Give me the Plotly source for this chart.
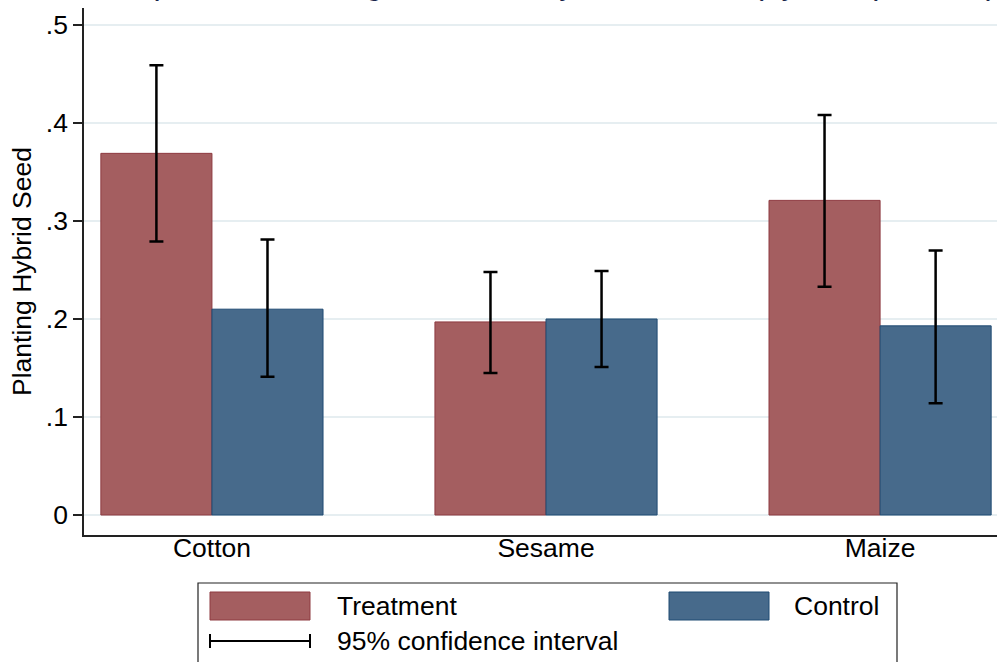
import plotly.graph_objects as go

# ---------------- data ----------------
crops = ["Cotton", "Sesame", "Maize"]
treat_mean = [0.369, 0.197, 0.321]
treat_lo = [0.279, 0.145, 0.233]
treat_hi = [0.459, 0.248, 0.408]
ctrl_mean = [0.210, 0.200, 0.193]
ctrl_lo = [0.141, 0.151, 0.114]
ctrl_hi = [0.281, 0.249, 0.270]
ytick_vals = [0, 0.1, 0.2, 0.3, 0.4, 0.5]
ytick_text = ["0", ".1", ".2", ".3", ".4", ".5"]
series_names = ["Treatment", "Control"]
ci_label = "95% confidence interval"
y_title = "Planting Hybrid Seed"
title_text = "Impact on Planting Seed Use by Treatments (by Sample Size)"

# ---------------- style ----------------
W, H = 997, 662
ML, MR, MT, MB = 84, 0, 8, 127
PW, PH = W - ML - MR, H - MT - MB
FONT = "Liberation Sans, Arial, Helvetica, sans-serif"
FS = 26.5
T_FILL, T_LINE = "#a45e60", "#8e3a40"
C_FILL, C_LINE = "#476a8b", "#1f4a72"


def px(x):
    return (x - ML) / PW


def py(y):
    return (H - MB - y) / PH


def err(mean, lo, hi):
    return [h - m for m, h in zip(mean, hi)], [m - l for m, l in zip(mean, lo)]


t_up, t_dn = err(treat_mean, treat_lo, treat_hi)
c_up, c_dn = err(ctrl_mean, ctrl_lo, ctrl_hi)

fig = go.Figure()
fig.add_trace(go.Bar(
    x=crops, y=treat_mean, name=series_names[0],
    marker=dict(color=T_FILL, line=dict(color=T_LINE, width=1)),
    error_y=dict(type="data", array=t_up, arrayminus=t_dn, color="black",
                 thickness=2.5, width=7),
))
fig.add_trace(go.Bar(
    x=crops, y=ctrl_mean, name=series_names[1],
    marker=dict(color=C_FILL, line=dict(color=C_LINE, width=1)),
    error_y=dict(type="data", array=c_up, arrayminus=c_dn, color="black",
                 thickness=2.5, width=7),
))

fig.update_layout(
    width=W, height=H,
    margin=dict(l=ML, r=MR, t=MT, b=MB, pad=0, autoexpand=False),
    paper_bgcolor="white", plot_bgcolor="white",
    barmode="group", bargap=0.335, bargroupgap=0,
    showlegend=False,
    font=dict(family=FONT, size=FS, color="black"),
)
fig.update_xaxes(
    range=[-0.383, 2.35], showline=True, linecolor="#222", linewidth=1.5,
    ticks="", showgrid=False, zeroline=False, automargin=False,
    ticklabelstandoff=-12,
    tickfont=dict(size=FS, family=FONT, color="black"),
)
fig.update_yaxes(
    range=[-0.0204, 0.5173], showline=True, linecolor="#222", linewidth=1.5,
    tickvals=ytick_vals, ticktext=ytick_text, ticks="outside", ticklen=9,
    tickwidth=1.5, tickcolor="#222", automargin=False,
    showgrid=True, gridcolor="#e6eef1", gridwidth=1.5, zeroline=False,
    tickfont=dict(size=FS, family=FONT, color="black"),
    title=dict(text=y_title, font=dict(size=FS, family=FONT, color="black"),
               standoff=7),
)

# cropped title at the very top
fig.add_annotation(
    text=title_text, xref="paper", yref="paper", x=px(116), y=py(-17),
    xanchor="left", yanchor="middle", showarrow=False,
    font=dict(size=32, family=FONT, color="#18254a"),
)

# ---------------- manual Stata-style legend ----------------
shapes = [
    dict(type="rect", xref="paper", yref="paper", x0=px(198), x1=px(897),
         y0=py(583), y1=py(680), line=dict(color="#222", width=1.2),
         fillcolor="white", layer="above"),
    dict(type="rect", xref="paper", yref="paper", x0=px(210), x1=px(310),
         y0=py(592), y1=py(620), line=dict(color=T_LINE, width=1),
         fillcolor=T_FILL),
    dict(type="rect", xref="paper", yref="paper", x0=px(669), x1=px(769),
         y0=py(592), y1=py(620), line=dict(color=C_LINE, width=1),
         fillcolor=C_FILL),
    dict(type="line", xref="paper", yref="paper", x0=px(210), x1=px(310),
         y0=py(641), y1=py(641), line=dict(color="black", width=2)),
    dict(type="line", xref="paper", yref="paper", x0=px(210), x1=px(210),
         y0=py(634), y1=py(648), line=dict(color="black", width=2)),
    dict(type="line", xref="paper", yref="paper", x0=px(310), x1=px(310),
         y0=py(634), y1=py(648), line=dict(color="black", width=2)),
]
for s in shapes[1:]:
    s["layer"] = "above"
fig.update_layout(shapes=shapes)

for txt, x0, yc in [(series_names[0], 335, 606), (series_names[1], 792, 606),
                    (ci_label, 335, 641)]:
    fig.add_annotation(text=txt, xref="paper", yref="paper", x=px(x0), y=py(yc),
                       xanchor="left", yanchor="middle", showarrow=False,
                       font=dict(size=FS, family=FONT, color="black"))

fig.write_html(
    "out.html",
    config={"displayModeBar": False},
    post_script="document.body.style.margin='0';document.body.style.padding='0';",
)
